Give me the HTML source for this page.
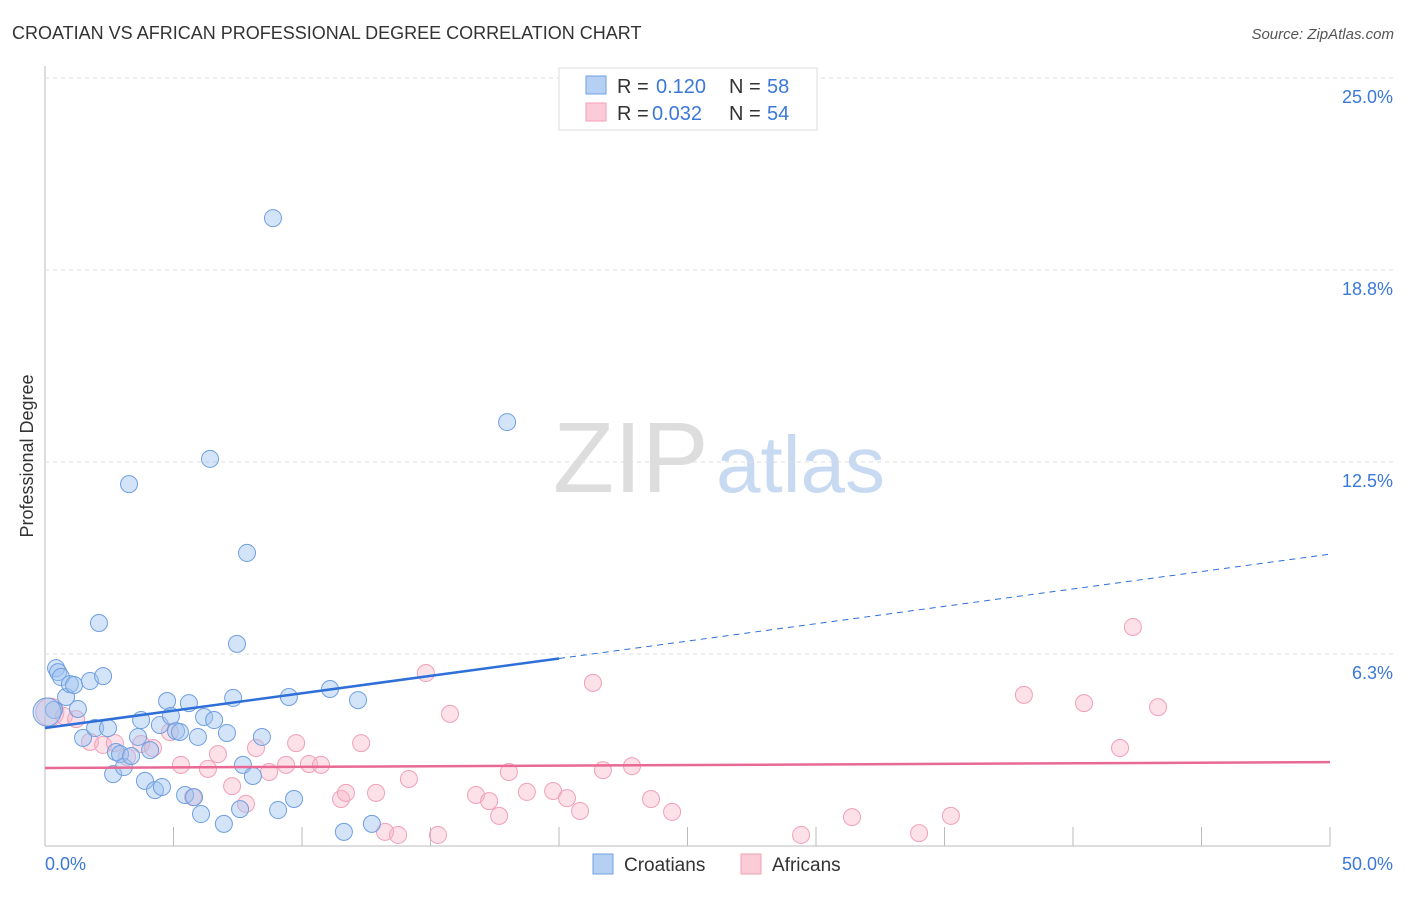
<!DOCTYPE html>
<html><head><meta charset="utf-8"><style>
body{margin:0;background:#fff;font-family:"Liberation Sans",sans-serif}
svg text{font-family:"Liberation Sans",sans-serif}
</style></head><body>
<svg id="chart" width="1406" height="892">
<text x="12" y="39" font-size="18" fill="#333">CROATIAN VS AFRICAN PROFESSIONAL DEGREE CORRELATION CHART</text>
<text x="1394" y="39" font-size="15" fill="#555" text-anchor="end" font-style="italic">Source: ZipAtlas.com</text>
<text transform="translate(33,456) rotate(-90)" font-size="18" fill="#333" text-anchor="middle">Professional Degree</text>
<text x="553" y="492" font-size="100" fill="#ddd" font-family="Liberation Serif">ZIP</text>
<text x="716" y="492" font-size="80" fill="#c8daf2">atlas</text>
<g id="grid"></g><g id="pts"></g><g id="trend"></g>
<g>
<rect x="559" y="68" width="258" height="62" fill="#fff" stroke="#ddd"/>
<rect x="586" y="76" width="20" height="18" fill="#b6d0f4" stroke="#6f9fe0"/>
<text x="617" y="93" font-size="20" fill="#333">R =</text>
<text x="656" y="93" font-size="20" fill="#3b78d8">0.120</text>
<text x="729" y="93" font-size="20" fill="#333">N =</text>
<text x="767" y="93" font-size="20" fill="#3b78d8">58</text>
<rect x="586" y="103" width="20" height="18" fill="#fbcbd8" stroke="#f0a0b8"/>
<text x="617" y="120" font-size="20" fill="#333">R =</text>
<text x="652" y="120" font-size="20" fill="#3b78d8">0.032</text>
<text x="729" y="120" font-size="20" fill="#333">N =</text>
<text x="767" y="120" font-size="20" fill="#3b78d8">54</text>
</g>
<g>
<rect x="593" y="854" width="20" height="20" fill="#b6d0f4" stroke="#6f9fe0"/>
<text x="624" y="871" font-size="19" fill="#333">Croatians</text>
<rect x="741" y="854" width="20" height="20" fill="#fbcbd8" stroke="#f0a0b8"/>
<text x="772" y="871" font-size="19" fill="#333">Africans</text>
</g>
</svg>
<script>
const yTicks=[6.25,12.5,18.75,25];
const yTickLabels=["6.3%","12.5%","18.8%","25.0%"];
const xTicks=[5,10,15,20,25,30,35,40,45,50];
const croX=[0.43,0.51,0.62,0.82,0.97,1.13,1.28,1.48,1.75,1.95,2.10,2.26,2.45,2.65,2.76,2.92,3.07,3.27,3.35,3.62,3.74,3.89,4.09,4.28,4.47,4.55,4.75,4.90,5.10,5.25,5.45,5.60,5.80,5.95,6.07,6.19,6.42,6.58,6.96,7.08,7.32,7.47,7.59,7.70,7.86,8.09,8.44,8.87,9.07,9.49,9.69,11.09,11.63,12.18,12.72,17.98,0.35,0.08];
const croY=[5.79,5.66,5.50,4.85,5.27,5.24,4.46,3.52,5.37,3.84,7.26,5.53,3.84,2.34,3.06,2.99,2.57,11.78,2.93,3.55,4.10,2.12,3.12,1.82,3.94,1.92,4.72,4.23,3.74,3.71,1.66,4.65,1.59,3.55,1.04,4.20,12.60,4.10,0.72,3.68,4.82,6.58,1.20,2.64,9.54,2.28,3.55,20.44,1.17,4.85,1.53,5.11,0.46,4.75,0.72,13.80,4.43,4.36];
const afrX=[0.19,0.74,1.21,1.75,2.26,2.72,3.19,3.74,4.20,4.86,5.29,5.76,6.34,6.73,7.28,7.82,8.21,8.72,9.38,9.77,10.27,10.74,11.52,11.71,12.30,12.88,13.23,13.74,14.16,14.82,15.29,15.76,16.77,17.28,17.67,18.05,18.75,19.77,20.31,20.82,21.32,21.71,22.84,23.58,24.40,29.42,31.40,34.01,35.25,38.09,40.43,41.83,42.33,43.31];
const afrY=[4.36,4.23,4.13,3.39,3.29,3.35,2.90,3.32,3.19,3.71,2.64,1.59,2.51,2.99,1.95,1.37,3.19,2.41,2.64,3.35,2.67,2.64,1.53,1.73,3.35,1.73,0.46,0.36,2.18,5.63,0.36,4.30,1.66,1.46,0.98,2.41,1.76,1.79,1.56,1.14,5.31,2.47,2.60,1.53,1.11,0.36,0.94,0.42,0.98,4.92,4.65,3.19,7.13,4.52];
const croTrend=[3.84,9.5];
const afrTrend=[2.54,2.73];
const X0=45,X1=1330,Y0=846,Y25=78;
const sx=v=>X0+v/50*(X1-X0);
const sy=v=>Y0-v/25*(Y0-Y25);
const NS="http://www.w3.org/2000/svg";
function mk(t,a,p){const e=document.createElementNS(NS,t);for(const k in a)e.setAttribute(k,a[k]);p.appendChild(e);return e;}
const grid=document.getElementById('grid');
let ax=mk('line',{x1:X0,y1:66,x2:X0,y2:Y0,stroke:'#bbb'},grid);


let bx=mk('line',{x1:X0,y1:Y0,x2:X1,y2:Y0,stroke:'#bbb'},grid);


yTicks.forEach((v,i)=>{
 let g=mk('line',{x1:X0,y1:sy(v),x2:1395,y2:sy(v),stroke:'#ddd','stroke-dasharray':'4,4'},grid);
 
 
 let t=mk('text',{x:1393,y:sy(v)+25,'font-size':18,fill:'#3b78d8','text-anchor':'end'},grid);
 t.textContent=yTickLabels[i];
 
 
});
xTicks.forEach(v=>{
 let l=mk('line',{x1:sx(v),y1:Y0-19,x2:sx(v),y2:Y0,stroke:'#bbb'},grid);
 
 
});
let xl=mk('text',{x:45,y:870,'font-size':18,fill:'#3b78d8'},grid);xl.textContent='0.0%';


let xr=mk('text',{x:1393,y:870,'font-size':18,fill:'#3b78d8','text-anchor':'end'},grid);xr.textContent='50.0%';


const pts=document.getElementById('pts');
afrX.forEach((v,i)=>{
 let c=mk('circle',{cx:sx(v),cy:sy(afrY[i]),r:i==0?14:8.5,fill:'rgba(248,180,200,0.4)',stroke:'#f0a0b8','stroke-width':1},pts);
 
 
});
croX.forEach((v,i)=>{
 let c=mk('circle',{cx:sx(v),cy:sy(croY[i]),r:i==croX.length-1?14:8.5,fill:'rgba(160,196,240,0.45)',stroke:'#6f9fe0','stroke-width':1},pts);
 
 
});
const tr=document.getElementById('trend');
const cy=x=>croTrend[0]+(croTrend[1]-croTrend[0])*x/50;
let t1=mk('line',{x1:sx(0),y1:sy(cy(0)),x2:sx(20),y2:sy(cy(20)),stroke:'#2f6fd8','stroke-width':2.5},tr);


let t2=mk('line',{x1:sx(20),y1:sy(cy(20)),x2:sx(50),y2:sy(cy(50)),stroke:'#2f6fd8','stroke-width':1,'stroke-dasharray':'6,5'},tr);


let t3=mk('line',{x1:sx(0),y1:sy(afrTrend[0]),x2:sx(50),y2:sy(afrTrend[1]),stroke:'#e86a94','stroke-width':2.5},tr);


</script>
</body></html>
